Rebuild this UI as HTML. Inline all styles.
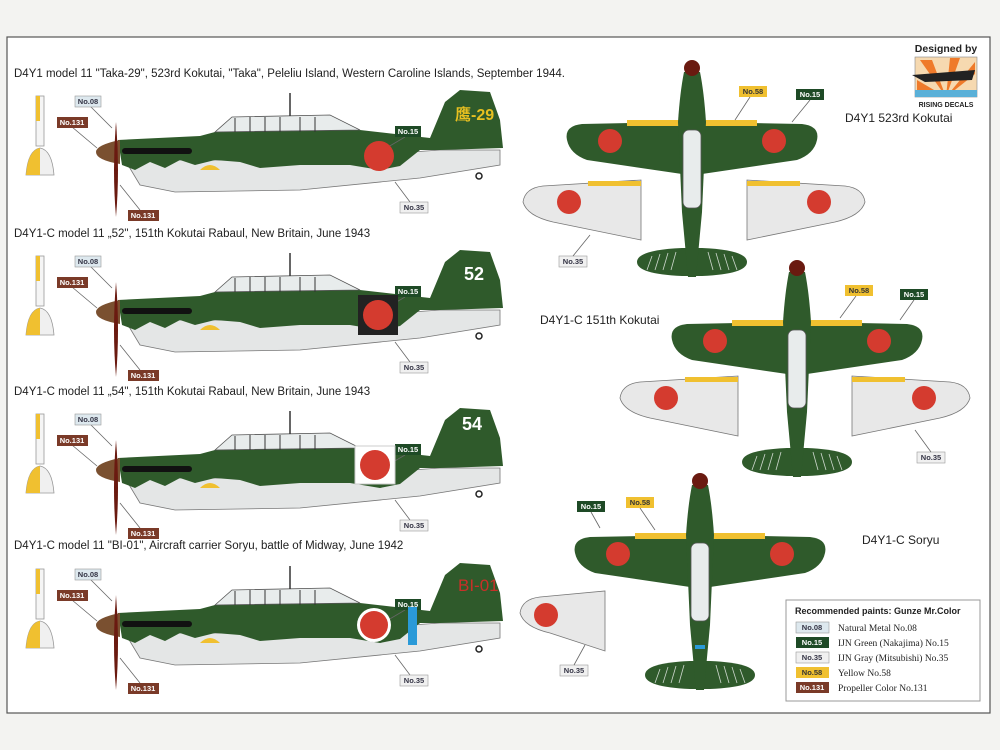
<!DOCTYPE html>
<html><head><meta charset="utf-8"><style>
html,body{margin:0;padding:0;background:#f3f3f1;}
svg{display:block;font-family:"Liberation Sans","Noto Sans CJK SC",sans-serif;}
</style></head><body>
<svg width="1000" height="750" viewBox="0 0 1000 750" xmlns="http://www.w3.org/2000/svg">
<defs>
<g id="side">
  <path d="M128,165 L140,185 L175,192 L300,190 L420,178 L500,165 L500,150 L440,150 L300,160 L130,160 Z" fill="#e4e6e6" stroke="#777" stroke-width="0.8"/>
  <path d="M118,140 L200,136 L215,132 L232,117 L330,115 L360,130 L430,138 L445,102 L460,90 L490,92 L500,120 L503,148 L440,150 L420,150 L400,166 L380,170 L350,165 L300,165 L260,168 L240,162 L215,160 L195,165 L180,160 L165,168 L150,162 L135,170 L122,165 Z" fill="#2f5a2b"/>
  <path d="M215,132 L232,117 L330,115 L360,130 Z" fill="#e8ecec" stroke="#555" stroke-width="0.8"/>
  <g stroke="#333" stroke-width="1"><line x1="235" y1="118" x2="235" y2="132"/><line x1="250" y1="117" x2="250" y2="132"/><line x1="265" y1="117" x2="265" y2="132"/><line x1="280" y1="117" x2="280" y2="132"/><line x1="300" y1="117" x2="300" y2="132"/><line x1="315" y1="117" x2="315" y2="132"/></g>
  <line x1="290" y1="93" x2="290" y2="116" stroke="#333" stroke-width="1.5"/>
  <rect x="122" y="148" width="70" height="6" rx="3" fill="#111"/>
  <path d="M200,170 q10,-10 20,0 z" fill="#f0c030"/>
  <path d="M120,140 Q96,145 96,152 Q96,160 120,164 Z" fill="#7a5030"/>
  <path d="M116,122 Q112,170 116,217 Q120,170 116,122 Z" fill="#6a1a10"/>
  <rect x="36" y="96" width="8" height="50" fill="#f5f5f5" stroke="#999" stroke-width="0.8"/>
  <rect x="36" y="96" width="4" height="25" fill="#f0c030"/>
  <path d="M26,175 Q28,150 40,148 Q52,150 54,175 Z" fill="#f0f0f0" stroke="#999" stroke-width="0.8"/>
  <path d="M26,175 Q28,150 40,148 L40,175 Z" fill="#f0c030"/>
  <circle cx="479" cy="176" r="3" fill="none" stroke="#222" stroke-width="1.5"/>
  <g stroke="#666" stroke-width="0.8"><line x1="90" y1="106" x2="112" y2="128"/><line x1="72" y1="127" x2="97" y2="148"/><line x1="405" y1="137" x2="388" y2="147"/><line x1="410" y1="202" x2="395" y2="182"/><line x1="140" y1="210" x2="120" y2="185"/></g>
  <rect x="75" y="96" width="26" height="11" fill="#dde8ee" stroke="#999" stroke-width="0.6"/>
  <rect x="57" y="117" width="31" height="11" fill="#7a3a28"/>
  <rect x="395" y="126" width="26" height="11" fill="#1e4a26"/>
  <rect x="400" y="202" width="28" height="11" fill="#f0f0f0" stroke="#999" stroke-width="0.6"/>
  <rect x="128" y="210" width="31" height="11" fill="#7a3a28"/>
</g>
<g id="top">
  <path d="M-125,78 Q-128,64 -110,62 L-10,60 L10,60 L110,62 Q128,64 125,78 Q122,92 105,98 L10,112 L-10,112 L-105,98 Q-122,92 -125,78 Z" fill="#2f5a2b"/>
  <rect x="-65" y="58" width="55" height="6" fill="#f0c030"/>
  <rect x="10" y="58" width="55" height="6" fill="#f0c030"/>
  <path d="M-55,200 Q-55,188 -10,186 L10,186 Q55,188 55,200 Q55,212 10,214 L-10,214 Q-55,212 -55,200 Z" fill="#2f5a2b"/>
  <g stroke="#cfd8cf" stroke-width="0.8"><line x1="-45" y1="208" x2="-40" y2="194"/><line x1="-37" y1="208" x2="-32" y2="192"/><line x1="-29" y1="208" x2="-24" y2="191"/><line x1="-21" y1="208" x2="-16" y2="190"/><line x1="16" y1="190" x2="21" y2="208"/><line x1="24" y1="191" x2="29" y2="208"/><line x1="32" y1="192" x2="37" y2="208"/><line x1="40" y1="194" x2="45" y2="208"/></g>
  <path d="M-8,10 Q-12,30 -14,60 L-10,150 L-4,215 L4,215 L10,150 L14,60 Q12,30 8,10 Z" fill="#2f5a2b"/>
  <ellipse cx="0" cy="6" rx="8" ry="8" fill="#6a1a10"/>
  <rect x="-9" y="68" width="18" height="78" rx="6" fill="#e8ecec" stroke="#555" stroke-width="0.8"/>
  <circle cx="-82" cy="79" r="12" fill="#d43b2f"/>
  <circle cx="82" cy="79" r="12" fill="#d43b2f"/>
</g>
<g id="under">
  <path d="M0,20 Q2,6 20,4 L118,-2 L118,58 L30,40 Q4,34 0,20 Z" fill="#e8e8e8" stroke="#777" stroke-width="0.8"/>
  <rect x="65" y="-1" width="53" height="5" fill="#f0c030"/>
  <circle cx="46" cy="20" r="12" fill="#d43b2f"/>
</g>
</defs>
<rect x="7" y="37" width="983" height="676" fill="#fff" stroke="#555" stroke-width="1.2"/>

<text x="14" y="77" font-size="11.5" fill="#222">D4Y1 model 11 "Taka-29", 523rd Kokutai, "Taka", Peleliu Island, Western Caroline Islands, September 1944.</text>
<text x="14" y="237" font-size="11.5" fill="#222">D4Y1-C model 11 „52", 151th Kokutai Rabaul, New Britain, June 1943</text>
<text x="14" y="395" font-size="11.5" fill="#222">D4Y1-C model 11 „54", 151th Kokutai Rabaul, New Britain, June 1943</text>
<text x="14" y="549" font-size="11.5" fill="#222">D4Y1-C model 11 "BI-01", Aircraft carrier Soryu, battle of Midway, June 1942</text>

<use href="#side"/>
<circle cx="379" cy="156" r="15" fill="#d43b2f"/>
<text x="455" y="120" font-size="16" font-weight="bold" fill="#e8c020">鹰-29</text>

<use href="#side" transform="translate(0,160)"/>
<rect x="358" y="295" width="40" height="40" fill="#222"/>
<circle cx="378" cy="315" r="15" fill="#d43b2f"/>
<text x="464" y="280" font-size="18" font-weight="bold" fill="#fff">52</text>

<use href="#side" transform="translate(0,318)"/>
<rect x="355" y="446" width="40" height="38" fill="#fff" stroke="#ccc"/>
<circle cx="375" cy="465" r="15" fill="#d43b2f"/>
<text x="462" y="430" font-size="18" font-weight="bold" fill="#fff">54</text>

<use href="#side" transform="translate(0,473)"/>
<circle cx="374" cy="625" r="17" fill="#fff"/>
<circle cx="374" cy="625" r="14" fill="#d43b2f"/>
<rect x="408" y="607" width="9" height="38" fill="#2a9ad8"/>
<text x="458" y="591" font-size="17" fill="#c83028">BI-01</text>

<g font-size="7.5" font-weight="bold" text-anchor="middle">
<g fill="#334"><text x="88" y="104">No.08</text><text x="88" y="264">No.08</text><text x="88" y="422">No.08</text><text x="88" y="577">No.08</text>
<text x="414" y="210">No.35</text><text x="414" y="370">No.35</text><text x="414" y="528">No.35</text><text x="414" y="683">No.35</text></g>
<g fill="#fff"><text x="72" y="125">No.131</text><text x="72" y="285">No.131</text><text x="72" y="443">No.131</text><text x="72" y="598">No.131</text>
<text x="143" y="218">No.131</text><text x="143" y="378">No.131</text><text x="143" y="536">No.131</text><text x="143" y="691">No.131</text>
<text x="408" y="134">No.15</text><text x="408" y="294">No.15</text><text x="408" y="452">No.15</text><text x="408" y="607">No.15</text></g>
</g>

<use href="#top" transform="translate(692,62)"/>
<use href="#under" transform="translate(523,182)"/>
<use href="#under" transform="translate(865,182) scale(-1,1)"/>
<use href="#top" transform="translate(797,262)"/>
<use href="#under" transform="translate(620,378)"/>
<use href="#under" transform="translate(970,378) scale(-1,1)"/>
<use href="#top" transform="translate(700,475)"/>
<rect x="695" y="645" width="10" height="4" fill="#2a9ad8"/>
<g transform="translate(520,593)"><path d="M0,20 Q2,6 20,4 L85,-2 L85,58 L30,40 Q4,34 0,20 Z" fill="#e8e8e8" stroke="#777" stroke-width="0.8"/><circle cx="26" cy="22" r="12" fill="#d43b2f"/></g>

<g font-size="7.5" font-weight="bold" text-anchor="middle">
<rect x="739" y="86" width="28" height="11" fill="#f0c030"/><text x="753" y="94" fill="#333">No.58</text>
<rect x="796" y="89" width="28" height="11" fill="#1e4a26"/><text x="810" y="97" fill="#fff">No.15</text>
<rect x="559" y="256" width="28" height="11" fill="#f0f0f0" stroke="#999" stroke-width="0.6"/><text x="573" y="264" fill="#334">No.35</text>
<rect x="845" y="285" width="28" height="11" fill="#f0c030"/><text x="859" y="293" fill="#333">No.58</text>
<rect x="900" y="289" width="28" height="11" fill="#1e4a26"/><text x="914" y="297" fill="#fff">No.15</text>
<rect x="917" y="452" width="28" height="11" fill="#f0f0f0" stroke="#999" stroke-width="0.6"/><text x="931" y="460" fill="#334">No.35</text>
<rect x="577" y="501" width="28" height="11" fill="#1e4a26"/><text x="591" y="509" fill="#fff">No.15</text>
<rect x="626" y="497" width="28" height="11" fill="#f0c030"/><text x="640" y="505" fill="#333">No.58</text>
<rect x="560" y="665" width="28" height="11" fill="#f0f0f0" stroke="#999" stroke-width="0.6"/><text x="574" y="673" fill="#334">No.35</text>
</g>
<g stroke="#666" stroke-width="0.8"><line x1="750" y1="97" x2="735" y2="120"/><line x1="810" y1="100" x2="792" y2="122"/><line x1="573" y1="256" x2="590" y2="235"/><line x1="856" y1="296" x2="840" y2="318"/><line x1="914" y1="300" x2="900" y2="320"/><line x1="931" y1="452" x2="915" y2="430"/><line x1="591" y1="512" x2="600" y2="528"/><line x1="640" y1="508" x2="655" y2="530"/><line x1="574" y1="665" x2="585" y2="645"/></g>

<text x="845" y="122" font-size="12" fill="#222">D4Y1 523rd Kokutai</text>
<text x="540" y="324" font-size="12" fill="#222">D4Y1-C 151th Kokutai</text>
<text x="862" y="544" font-size="12" fill="#222">D4Y1-C Soryu</text>

<text x="946" y="52" font-size="10.5" font-weight="bold" text-anchor="middle" fill="#222">Designed by</text>
<rect x="915" y="57" width="62" height="40" fill="#f6d9b0" stroke="#888" stroke-width="0.6"/>
<path d="M946,97 L920,60 L932,60 Z M946,97 L950,58 L960,58 Z M946,97 L975,62 L975,74 Z M946,97 L917,80 L917,90 Z" fill="#ef7a2a"/>
<rect x="915" y="90" width="62" height="7" fill="#5ab0d8"/>
<path d="M912,75 L975,70 L972,80 L925,82 Z" fill="#222"/>
<text x="946" y="107" font-size="7" font-weight="bold" text-anchor="middle" fill="#222">RISING DECALS</text>

<rect x="786" y="600" width="194" height="101" fill="#fff" stroke="#999"/>
<text x="795" y="614" font-size="9" font-weight="bold" fill="#222">Recommended paints: Gunze Mr.Color</text>
<g font-size="7.5" font-weight="bold" text-anchor="middle">
<rect x="796" y="622" width="33" height="11" fill="#dde8ee" stroke="#999" stroke-width="0.6"/><text x="812" y="630" fill="#334">No.08</text>
<rect x="796" y="637" width="33" height="11" fill="#1e4a26"/><text x="812" y="645" fill="#fff">No.15</text>
<rect x="796" y="652" width="33" height="11" fill="#f0f0f0" stroke="#999" stroke-width="0.6"/><text x="812" y="660" fill="#334">No.35</text>
<rect x="796" y="667" width="33" height="11" fill="#f0c030"/><text x="812" y="675" fill="#333">No.58</text>
<rect x="796" y="682" width="33" height="11" fill="#7a3a28"/><text x="812" y="690" fill="#fff">No.131</text>
</g>
<g font-family="Liberation Serif,serif" font-size="9.5" fill="#222">
<text x="838" y="631">Natural Metal No.08</text>
<text x="838" y="646">IJN Green (Nakajima) No.15</text>
<text x="838" y="661">IJN Gray (Mitsubishi) No.35</text>
<text x="838" y="676">Yellow No.58</text>
<text x="838" y="691">Propeller Color No.131</text>
</g>
</svg>
</body></html>
